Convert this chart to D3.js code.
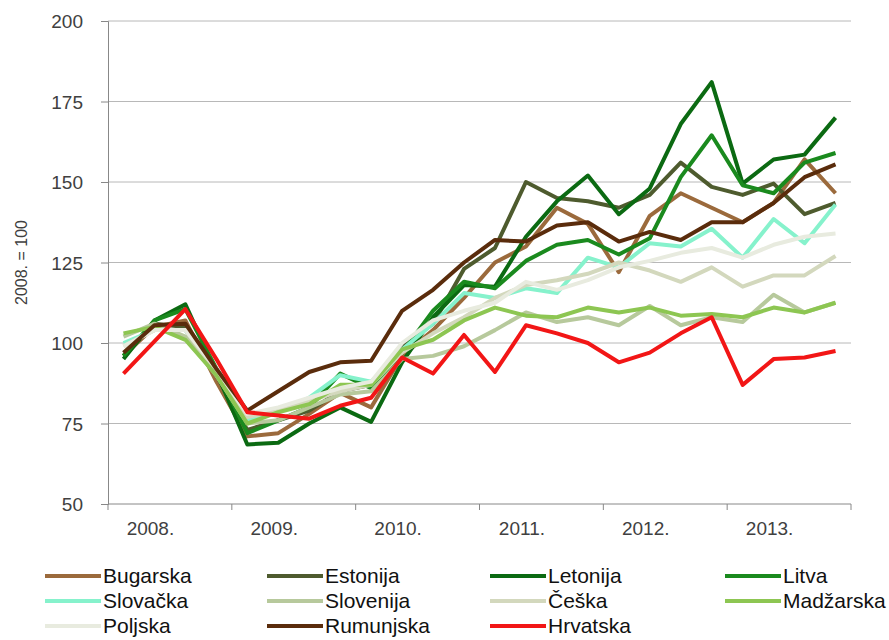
<!DOCTYPE html>
<html>
<head>
<meta charset="utf-8">
<script src="https://cdn.jsdelivr.net/npm/d3@7"></script>
<style>
  body { margin: 0; background: #fff; }
  text { font-family: "Liberation Sans", Arial, sans-serif; fill: #404040; }
</style>
</head>
<body>
<div id="chart"></div>
<script>
// quarters 2008Q1 .. 2013Q4
var quarters = [];
[2008, 2009, 2010, 2011, 2012, 2013].forEach(function(y) {
  for (var q = 1; q <= 4; q++) quarters.push(y + "Q" + q);
});
var years = ["2008.", "2009.", "2010.", "2011.", "2012.", "2013."];
var yTicks = [50, 75, 100, 125, 150, 175, 200];

var bugarska  = [96, 105, 107, 88, 71, 72, 78, 84.5, 80, 96, 104, 114, 125, 130, 142, 137, 122, 139.5, 146.5, 142, 137.5, 143.5, 157, 146.5];
var estonija  = [96, 106, 105, 90, 73, 76, 79, 85, 87, 99, 106, 123, 129.5, 150, 145, 144, 142, 146, 156, 148.5, 146, 149.5, 140, 143.5];
var letonija  = [95, 107, 112, 91, 68.5, 69, 75, 80, 75.5, 94, 108, 118, 117.5, 133, 144, 152, 140, 148, 168, 181, 149.5, 157, 158.5, 170];
var litva     = [96, 107, 110.5, 92, 72, 76, 80, 90.5, 86, 97, 110, 119, 117, 125.5, 130.5, 132, 127.5, 132.5, 151.5, 164.5, 149, 146.5, 156, 159];
var slovacka  = [100, 104, 104, 90, 76, 79, 83, 90, 88, 98, 106, 115.5, 114, 117, 115.5, 126.5, 123.5, 131, 130, 135.5, 126.5, 138.5, 131, 143];
var slovenija = [102, 106, 102, 90, 75, 76, 80, 84, 85, 95, 96, 99, 104, 109.5, 106.5, 108, 105.5, 111.5, 105.5, 108, 106.5, 115, 109.5, 112.5];
var ceska     = [99, 104, 104, 91, 77, 79, 82, 85, 87, 97, 103, 108, 114, 118, 119.5, 121.5, 125, 122.5, 119, 123.5, 117.5, 121, 121, 127];
var madzarska = [103, 105, 101, 90, 75, 78.5, 81, 87, 87, 98, 101, 107, 111, 108.5, 108, 111, 109.5, 111, 108.5, 109, 108, 111, 109.5, 112.5];
var poljska   = [99, 104, 104, 92, 78, 80, 83, 86, 88, 100, 107, 110, 112.5, 119, 116.5, 119.5, 123.5, 125.5, 128, 129.5, 126.5, 130.5, 133, 134];
var rumunjska = [97, 105.5, 106, 92, 79, 85, 91, 94, 94.5, 110, 116.5, 125, 132, 131.5, 136.5, 137.5, 131.5, 134.5, 132, 137.5, 137.5, 143.5, 151.5, 155.5];
var hrvatska  = [90.5, 100.5, 110.5, 95, 78.5, 77.5, 76.5, 80.5, 83, 95.5, 90.5, 102.5, 91, 105.5, 103, 100, 94, 97, 103, 108, 87, 95, 95.5, 97.5];

var seriesNames = ["Bugarska", "Estonija", "Letonija", "Litva", "Slovačka", "Slovenija", "Češka", "Madžarska", "Poljska", "Rumunjska", "Hrvatska"];
var seriesValues = [bugarska, estonija, letonija, litva, slovacka, slovenija, ceska, madzarska, poljska, rumunjska, hrvatska];
var seriesColors = ["#9b6a3c", "#4e5b2e", "#0b6a12", "#1a8a1e", "#86f2cc", "#b7c99c", "#d3d8bd", "#8dc652", "#e8ebdf", "#5a2c0c", "#f21616"];

var width = 889, height = 640;
var margin = {top: 21, right: 38, bottom: 136, left: 108};

var svg = d3.select("#chart").append("svg")
  .attr("width", width)
  .attr("height", height);

var x = d3.scaleBand().domain(quarters).range([margin.left, width - margin.right]);
var xYear = d3.scaleBand().domain(years).range([margin.left, width - margin.right]);
var y = d3.scaleLinear().domain([50, 200]).range([height - margin.bottom, margin.top]);

// gridlines
svg.append("g")
  .selectAll("line")
  .data(yTicks.slice(1))
  .enter().append("line")
  .attr("x1", margin.left)
  .attr("x2", width - margin.right)
  .attr("y1", d => y(d))
  .attr("y2", d => y(d))
  .style("stroke", "#b8b8b8")
  .style("stroke-width", 1);

// Y axis
var yAxis = d3.axisLeft(y).tickValues(yTicks).tickSize(7).tickPadding(18);
var gy = svg.append("g")
  .attr("transform", "translate(" + margin.left + ",0)")
  .call(yAxis);
gy.select(".domain").style("stroke", "#888");
gy.selectAll(".tick line").style("stroke", "#888");
gy.selectAll("text")
  .style("font-size", "19px")
  .style("fill", "#404040")
  .attr("dy", "0.35em");

// X axis with ticks at year boundaries
var gx = svg.append("g")
  .attr("transform", "translate(0," + y(50) + ")");
gx.append("line")
  .attr("x1", margin.left).attr("x2", width - margin.right)
  .style("stroke", "#888");
gx.selectAll(".yt")
  .data(years.concat(["end"]))
  .enter().append("line")
  .attr("class", "yt")
  .attr("x1", (d, i) => i < years.length ? xYear(d) : width - margin.right)
  .attr("x2", (d, i) => i < years.length ? xYear(d) : width - margin.right)
  .attr("y1", 0).attr("y2", 6)
  .style("stroke", "#888");
gx.selectAll(".yl")
  .data(years)
  .enter().append("text")
  .attr("class", "yl")
  .attr("x", (d, i) => x(quarters[i * 4 + 1]) + x.bandwidth() / 2 - 4)
  .attr("y", 31)
  .attr("text-anchor", "middle")
  .style("font-size", "19px")
  .text(d => d);

// y title
svg.append("text")
  .attr("transform", "translate(27," + y(125) + ") rotate(-90)")
  .attr("text-anchor", "middle")
  .style("font-size", "16px")
  .text("2008. = 100");

// lines
var line = d3.line()
  .x((d, i) => x(quarters[i]) + x.bandwidth() / 2)
  .y(d => y(d));

svg.append("g")
  .selectAll("path")
  .data(seriesValues)
  .enter().append("path")
  .attr("d", d => line(d))
  .style("fill", "none")
  .style("stroke", (d, i) => seriesColors[i])
  .style("stroke-width", 4)
  .style("stroke-linejoin", "round");

// legend
var colX = [45, 267, 490, 725];
var rowY = [576, 601, 626];
var lg = svg.append("g")
  .selectAll("g")
  .data(seriesNames)
  .enter().append("g")
  .attr("transform", (d, i) => "translate(" + colX[i % 4] + "," + rowY[Math.floor(i / 4)] + ")");
lg.append("line")
  .attr("x1", 0).attr("x2", 56)
  .style("stroke", (d, i) => seriesColors[i])
  .style("stroke-width", 4);
lg.append("text")
  .attr("x", 58)
  .attr("dy", "0.35em")
  .style("font-size", "21px")
  .style("fill", "#111")
  .text(d => d);
</script>
</body>
</html>
